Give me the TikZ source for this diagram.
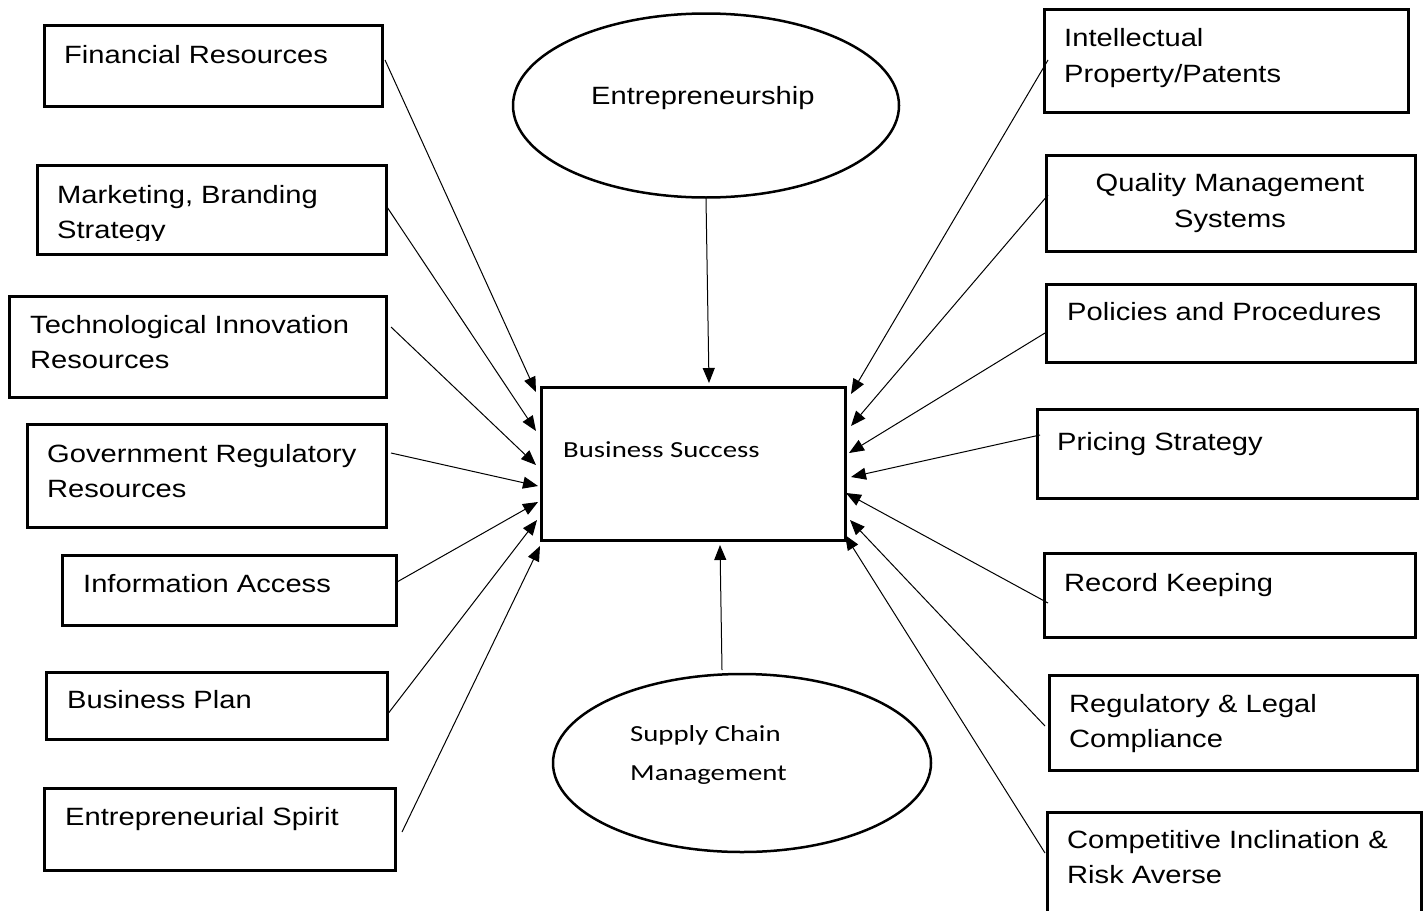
\documentclass[tikz,border=0pt]{standalone}
\usepackage{graphicx}
\usepackage{fontspec}
\setmainfont{Liberation Sans}
\newfontfamily\calfont{Carlito}
\usetikzlibrary{arrows.meta,shapes.geometric}
\newcommand\ax[1]{\scalebox{1.165}[1]{#1}}
\newcommand\cx[1]{\scalebox{1.25}[1]{#1}}
\tikzset{
  bx/.style={draw, line width=2.5pt, inner sep=0pt, anchor=north west},
  ov/.style={draw, ellipse, line width=2.5pt, inner sep=0pt},
  txt/.style={anchor=base west, inner sep=0pt, font=\fontsize{25}{30}\selectfont},
  ctxt/.style={anchor=base, inner sep=0pt, font=\fontsize{25}{30}\selectfont},
  ctx/.style={anchor=base west, inner sep=0pt, font=\calfont\fontsize{23}{28}\selectfont},
  arr/.style={-{Triangle[length=15pt,width=12pt]}, line width=1pt}
}
\begin{document}
\begin{tikzpicture}[x=1pt,y=-1pt]
\clip (0,0) rectangle (1426,910);
\fill[white] (0,0) rectangle (1426,910);

% centre box
\node[bx, minimum width=304pt, minimum height=153pt] (bs) at (540,386) {};
\node[ctx] (bs-t) at (563,457) {\cx{Business Success}};

% ellipses
\node[ov, minimum width=386pt, minimum height=184pt] (ent) at (706,105.5) {};
\node[txt] (ent-t) at (591,104) {\ax{Entrepreneurship}};
\node[ov, minimum width=378pt, minimum height=178pt] (scm) at (742,763) {};
\node[ctx] (scm-t1) at (630,741) {\cx{Supply Chain}};
\node[ctx] (scm-t2) at (630,780) {\cx{Management}};

% left boxes
\node[bx, minimum width=338pt, minimum height=81pt] (fr) at (43,24) {};
\node[txt] (fr-t) at (64,63) {\ax{Financial Resources}};
\node[bx, minimum width=349pt, minimum height=89pt] (mk) at (36,164) {};
\node[txt] (mk-t1) at (57,203) {\ax{Marketing, Branding}};
\begin{scope}
\clip (30,160) rectangle (390,240);
\node[txt] (mk-t2) at (57,238) {\ax{Strategy}};
\end{scope}
\node[bx, minimum width=377pt, minimum height=101pt] (ti) at (8,295) {};
\node[txt] (ti-t1) at (30,333) {\ax{Technological Innovation}};
\node[txt] (ti-t2) at (30,368) {\ax{Resources}};
\node[bx, minimum width=359pt, minimum height=103pt] (gr) at (26,423) {};
\node[txt] (gr-t1) at (47,462) {\ax{Government Regulatory}};
\node[txt] (gr-t2) at (47,497) {\ax{Resources}};
\node[bx, minimum width=334pt, minimum height=70pt] (ia) at (61,554) {};
\node[txt] (ia-t) at (83,592) {\ax{Information Access}};
\node[bx, minimum width=341pt, minimum height=67pt] (bp) at (45,671) {};
\node[txt] (bp-t) at (67,708) {\ax{Business Plan}};
\node[bx, minimum width=351pt, minimum height=82pt] (es) at (43,787) {};
\node[txt] (es-t) at (65,825) {\ax{Entrepreneurial Spirit}};

% right boxes
\node[bx, minimum width=364pt, minimum height=103pt] (ip) at (1043,8) {};
\node[txt] (ip-t1) at (1064,46) {\ax{Intellectual}};
\node[txt] (ip-t2) at (1064,82) {\ax{Property/Patents}};
\node[bx, minimum width=369pt, minimum height=96pt] (qm) at (1045,154) {};
\node[ctxt] (qm-t1) at (1230,191) {\ax{Quality Management}};
\node[ctxt] (qm-t2) at (1230,227) {\ax{Systems}};
\node[bx, minimum width=369pt, minimum height=78pt] (pp) at (1045,283) {};
\node[txt] (pp-t) at (1067,320) {\ax{Policies and Procedures}};
\node[bx, minimum width=380pt, minimum height=89pt] (ps) at (1036,408) {};
\node[txt] (ps-t) at (1057,450) {\ax{Pricing Strategy}};
\node[bx, minimum width=371pt, minimum height=84pt] (rk) at (1043,552) {};
\node[txt] (rk-t) at (1064,591) {\ax{Record Keeping}};
\node[bx, minimum width=368pt, minimum height=95pt] (rl) at (1048,674) {};
\node[txt] (rl-t1) at (1069,712) {\ax{Regulatory \& Legal}};
\node[txt] (rl-t2) at (1069,747) {\ax{Compliance}};
\node[bx, minimum width=374pt, minimum height=119pt] (ci) at (1046,811) {};
\node[txt] (ci-t1) at (1067,848) {\ax{Competitive Inclination \&}};
\node[txt] (ci-t2) at (1067,883) {\ax{Risk Averse}};

% connector end points
\coordinate (fr-o) at (385,60);
\coordinate (mk-o) at (387,207);
\coordinate (ti-o) at (391,327);
\coordinate (gr-o) at (391,453);
\coordinate (ia-o) at (397,582);
\coordinate (bp-o) at (387,715);
\coordinate (es-o) at (402,832);
\coordinate (ip-o) at (1048,60);
\coordinate (qm-o) at (1048,195);
\coordinate (pp-o) at (1045,333);
\coordinate (ps-o) at (1040,435);
\coordinate (rk-o) at (1048,603);
\coordinate (rl-o) at (1045,726);
\coordinate (ci-o) at (1045,853);
\coordinate (scm-o) at (722,670);

\coordinate (bs-l1) at (536,392);
\coordinate (bs-l2) at (536,431);
\coordinate (bs-l3) at (536,465);
\coordinate (bs-l4) at (538,486);
\coordinate (bs-l5) at (538,502);
\coordinate (bs-l6) at (537,520);
\coordinate (bs-l7) at (540,546);
\coordinate (bs-r1) at (851,394);
\coordinate (bs-r2) at (851,426);
\coordinate (bs-r3) at (849,453);
\coordinate (bs-r4) at (851,477);
\coordinate (bs-r5) at (846,493);
\coordinate (bs-r6) at (850,520);
\coordinate (bs-r7) at (845,535);
\coordinate (bs-top) at (709,383);
\coordinate (bs-bot) at (720,545);

% connectors
\draw[arr] (fr-o) -- (bs-l1);
\draw[arr] (mk-o) -- (bs-l2);
\draw[arr] (ti-o) -- (bs-l3);
\draw[arr] (gr-o) -- (bs-l4);
\draw[arr] (ia-o) -- (bs-l5);
\draw[arr] (bp-o) -- (bs-l6);
\draw[arr] (es-o) -- (bs-l7);
\draw[arr] (ip-o) -- (bs-r1);
\draw[arr] (qm-o) -- (bs-r2);
\draw[arr] (pp-o) -- (bs-r3);
\draw[arr] (ps-o) -- (bs-r4);
\draw[arr] (rk-o) -- (bs-r5);
\draw[arr] (rl-o) -- (bs-r6);
\draw[arr] (ci-o) -- (bs-r7);
\draw[arr] (ent.south) -- (bs-top);
\draw[arr] (scm-o) -- (bs-bot);
\end{tikzpicture}
\end{document}
